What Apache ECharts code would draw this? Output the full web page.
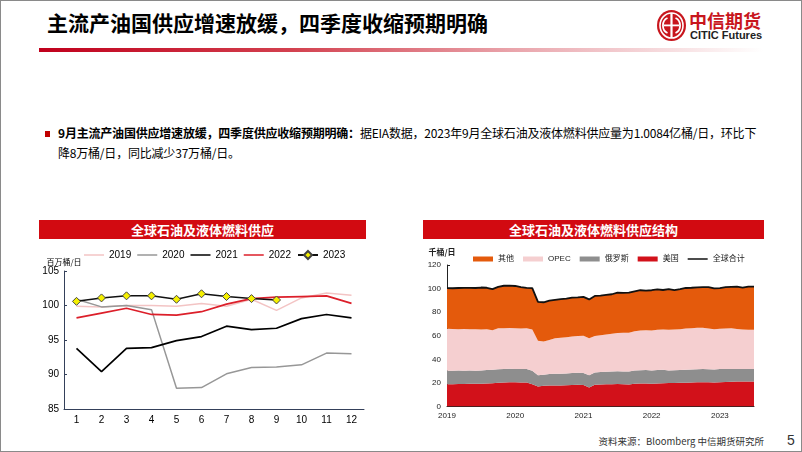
<!DOCTYPE html>
<html>
<head>
<meta charset="utf-8">
<script src="https://cdn.jsdelivr.net/npm/echarts@6/dist/echarts.min.js"></script>
<style>
  html, body { margin: 0; padding: 0; background: #fff; }
  #page {
    position: relative; width: 802px; height: 452px; box-sizing: border-box;
    border: 1px solid #8a8a8a; overflow: hidden;
    font-family: "Liberation Sans", "Noto Sans CJK SC", sans-serif; color: #000;
  }
  .abs { position: absolute; }
  #title { left: 46px; top: 6px; font-size: 21px; font-weight: bold; font-family: "Noto Sans CJK SC", sans-serif; white-space: nowrap; }
  #rule { left: 38px; top: 47px; width: 724px; height: 4px;
    background: linear-gradient(to right, #c0001c 0%, #d3414f 35%, #e9a3aa 65%, rgba(255,255,255,0) 100%); }
  #logoCn { left: 688px; top: 6px; font-size: 18px; font-weight: bold; color: #c8161d; font-family: "Noto Sans CJK SC", sans-serif; }
  #logoEn { left: 689px; top: 28px; font-size: 11px; font-weight: bold; color: #222; font-family: "Liberation Sans Narrow", "Liberation Sans", sans-serif; }
  #bullet { left: 44px; top: 130px; width: 5px; height: 6px; background: #c00000; }
  #para { left: 57px; top: 122px; font-size: 12px; line-height: 20px; white-space: nowrap; letter-spacing: -0.2px; font-family: "Noto Sans CJK SC", sans-serif; }
  #para b { font-weight: bold; }
  .bar { height: 19px; background: #d20a11; color: #fff; font-weight: bold; font-size: 13px;
    text-align: center; line-height: 19px; font-family: "Noto Sans CJK SC", sans-serif; }
  #barL { left: 38px; top: 219px; width: 327px; }
  #barR { left: 422px; top: 219px; width: 341px; }
  #chartL { left: 30px; top: 240px; width: 340px; height: 190px; }
  #chartR { left: 410px; top: 240px; width: 360px; height: 190px; }
  #source { right: 37px; top: 433px; font-size: 9.5px; color: #333; font-family: "Noto Sans CJK SC", sans-serif; }
  #pageNo { left: 786px; top: 431px; font-size: 14px; color: #333; }
</style>
</head>
<body>
<div id="page">
  <div id="title" class="abs">主流产油国供应增速放缓，四季度收缩预期明确</div>
  <div id="rule" class="abs"></div>
  <svg class="abs" style="left:655px;top:8px" width="31" height="33" viewBox="0 0 31 33">
    <ellipse cx="15.5" cy="16.5" rx="14.5" ry="15.5" fill="#c8161d"/>
    <ellipse cx="15.5" cy="16.5" rx="11.5" ry="12.5" fill="none" stroke="#fff" stroke-width="1.6"/>
    <rect x="14.4" y="4" width="2.2" height="25" fill="#fff"/>
    <path d="M11.5 9 A7 8 0 0 0 11.5 24" fill="none" stroke="#fff" stroke-width="1.8"/>
    <path d="M19.5 9 A7 8 0 0 1 19.5 24" fill="none" stroke="#fff" stroke-width="1.8"/>
    <rect x="8" y="15.5" width="15" height="1.8" fill="#fff"/>
  </svg>
  <div id="logoCn" class="abs">中信期货</div>
  <div id="logoEn" class="abs">CITIC Futures</div>
  <div id="bullet" class="abs"></div>
  <div id="para" class="abs"><b>9月主流产油国供应增速放缓，四季度供应收缩预期明确：</b>据EIA数据，2023年9月全球石油及液体燃料供应量为1.0084亿桶/日，环比下<br>降8万桶/日，同比减少37万桶/日。</div>
  <div id="barL" class="abs bar">全球石油及液体燃料供应</div>
  <div id="barR" class="abs bar">全球石油及液体燃料供应结构</div>
  <div id="chartL" class="abs"></div>
  <div id="chartR" class="abs"></div>
  <div id="source" class="abs">资料来源：Bloomberg 中信期货研究所</div>
  <div id="pageNo" class="abs">5</div>
</div>
<script>
// ---- left chart: monthly supply by year (百万桶/日)
const months = ['1', '2', '3', '4', '5', '6', '7', '8', '9', '10', '11', '12']
const y2019 = [99.9, 99.8, 100.0, 100.0, 99.9, 100.3, 99.9, 100.9, 99.3, 101.1, 101.8, 101.5]
const y2020 = [100.9, 99.8, 100.0, 99.4, 88.0, 88.1, 90.1, 91.0, 91.1, 91.4, 93.1, 93.0]
const y2021 = [93.8, 90.4, 93.8, 93.9, 94.9, 95.5, 97.0, 96.5, 96.7, 98.1, 98.7, 98.2]
const y2022 = [98.2, 98.9, 99.6, 98.7, 98.6, 99.1, 100.2, 101.0, 101.2, 101.3, 101.4, 100.3]
const y2023 = [100.6, 101.1, 101.4, 101.4, 100.9, 101.7, 101.3, 101.0, 100.8]

// ---- right chart: supply structure, Jan 2019 - Jul 2023
const yearTicks = ['2019', '2020', '2021', '2022', '2023']
const usSupply = [
  18.9, 18.9, 19.0, 19.1, 19.2, 19.2, 19.3, 19.6, 19.7, 20.2, 20.4, 20.6,
  20.5, 20.4, 20.3, 18.9, 16.9, 17.6, 17.8, 17.9, 17.8, 18.0, 18.3, 18.4,
  18.3, 16.2, 18.5, 18.7, 18.8, 18.9, 19.0, 18.8, 18.6, 19.3, 19.5, 19.6,
  19.2, 19.5, 19.8, 19.9, 19.9, 20.1, 20.2, 20.3, 20.5, 20.6, 20.5, 20.3,
  20.6, 20.8, 21.0, 21.1, 21.2, 21.3, 21.3
]
const russiaSupply = [
  11.4, 11.4, 11.5, 11.3, 11.3, 11.2, 11.3, 11.4, 11.4, 11.3, 11.4, 11.4,
  11.4, 11.4, 11.5, 11.4, 9.6, 9.4, 9.8, 9.9, 10.0, 10.0, 10.1, 10.2,
  10.2, 10.3, 10.4, 10.5, 10.6, 10.7, 10.8, 10.9, 11.0, 11.2, 11.3, 11.3,
  11.4, 11.5, 11.3, 10.6, 10.8, 10.9, 11.0, 11.1, 11.0, 11.1, 11.1, 11.0,
  11.1, 11.0, 10.8, 10.7, 10.6, 10.5, 10.5
]
const opecSupply = [
  35.7, 35.4, 35.1, 35.3, 35.1, 35.1, 34.8, 34.5, 33.5, 34.8, 34.6, 34.5,
  34.5, 34.4, 34.5, 35.0, 29.2, 28.2, 28.9, 30.0, 30.4, 30.7, 31.0, 31.2,
  31.5, 31.4, 30.8, 31.2, 31.6, 32.0, 32.6, 32.9, 33.0, 33.3, 33.6, 33.8,
  33.8, 34.0, 34.2, 34.5, 34.5, 34.6, 34.9, 35.0, 35.3, 35.1, 34.5, 34.2,
  34.3, 34.4, 34.5, 34.0, 33.6, 33.2, 33.3
]
const otherSupply = [
  34.4, 34.6, 34.9, 34.9, 35.0, 35.0, 35.5, 35.2, 35.0, 35.2, 36.0, 36.0,
  35.8, 35.1, 34.3, 35.1, 33.1, 33.2, 33.3, 32.7, 32.8, 32.8, 33.0, 32.8,
  33.0, 32.9, 34.1, 33.6, 33.6, 33.6, 34.2, 33.8, 33.9, 33.9, 34.2, 33.6,
  34.2, 34.3, 33.5, 34.6, 33.4, 33.9, 34.4, 34.3, 34.3, 34.4, 35.2, 34.6,
  34.4, 35.0, 35.1, 35.8, 35.5, 36.7, 36.5
]
const worldTotal = [
  100.4, 100.3, 100.5, 100.6, 100.6, 100.5, 100.9, 100.7, 99.6, 101.5, 102.4, 102.5,
  102.2, 101.3, 100.6, 100.4, 88.8, 88.4, 89.8, 90.5, 91.0, 91.5, 92.4, 92.6,
  93.0, 90.8, 93.8, 94.0, 94.6, 95.2, 96.6, 96.4, 96.5, 97.7, 98.6, 98.3,
  98.6, 99.3, 98.8, 99.6, 98.6, 99.5, 100.5, 100.7, 101.1, 101.2, 101.3, 100.1,
  100.4, 101.2, 101.4, 101.6, 100.9, 101.7, 101.6
]

// month categories: each year x 12, last year until July
const monthCats = []
yearTicks.forEach((y, i) => {
  const n = i === yearTicks.length - 1 ? 7 : 12
  for (let m = 1; m <= n; m++) monthCats.push(y + '-' + String(m).padStart(2, '0'))
})

const FONT = '"Liberation Sans", "Noto Sans CJK SC", sans-serif'
const LINE_ICON = 'path://M0,0 L40,0 L40,3 L0,3 Z'

const chartL = echarts.init(document.getElementById('chartL'))
const axisColorL = '#34405a'
chartL.setOption({
  animation: false,
  textStyle: { fontFamily: FONT },
  grid: { left: 33, top: 30, width: 300, height: 138 },
  legend: {
    left: 48, top: 4, itemWidth: 20, itemHeight: 10, itemGap: 6,
    textStyle: { fontSize: 10, color: '#000', fontFamily: FONT },
    data: [
      { name: '2019', icon: LINE_ICON },
      { name: '2020', icon: LINE_ICON },
      { name: '2021', icon: LINE_ICON },
      { name: '2022', icon: LINE_ICON },
      { name: '2023' }
    ]
  },
  xAxis: {
    type: 'category',
    data: months,
    axisLine: { lineStyle: { color: axisColorL, width: 1 } },
    axisTick: { inside: true, length: 3, lineStyle: { color: axisColorL } },
    axisLabel: { fontSize: 10, color: '#000', margin: 6 }
  },
  yAxis: {
    type: 'value',
    min: 85, max: 105, interval: 5,
    name: '百万桶/日',
    nameGap: 4,
    nameTextStyle: { fontSize: 8, color: '#000', fontFamily: '"Noto Sans CJK SC", sans-serif' },
    axisLine: { show: true, lineStyle: { color: axisColorL, width: 1 } },
    axisTick: { show: true, inside: true, length: 3, lineStyle: { color: axisColorL } },
    axisLabel: { fontSize: 10, color: '#000', margin: 5 },
    splitLine: { show: false }
  },
  series: [
    { name: '2019', type: 'line', data: y2019, symbol: 'none', lineStyle: { color: '#f3c4c4', width: 1.5 }, itemStyle: { color: '#f3c4c4' } },
    { name: '2020', type: 'line', data: y2020, symbol: 'none', lineStyle: { color: '#979797', width: 1.5 }, itemStyle: { color: '#979797' } },
    { name: '2021', type: 'line', data: y2021, symbol: 'none', lineStyle: { color: '#000', width: 1.7 }, itemStyle: { color: '#000' } },
    { name: '2022', type: 'line', data: y2022, symbol: 'none', lineStyle: { color: '#dc1f2a', width: 1.7 }, itemStyle: { color: '#dc1f2a' } },
    {
      name: '2023', type: 'line', data: y2023, symbol: 'diamond', symbolSize: 8,
      lineStyle: { color: '#111', width: 1.5 },
      itemStyle: { color: '#f5f000', borderColor: '#444', borderWidth: 1 },
      z: 5
    }
  ]
})

const chartR = echarts.init(document.getElementById('chartR'))
const areaSeries = (name, data, color) => ({
  name, type: 'line', stack: 'supply', data, symbol: 'none',
  lineStyle: { width: 0 }, areaStyle: { color, opacity: 1 }, itemStyle: { color }
})
const isJan = (idx, val) => String(val).endsWith('-01')
chartR.setOption({
  animation: false,
  textStyle: { fontFamily: FONT },
  grid: { left: 36, top: 24, width: 307, height: 141.5 },
  legend: {
    left: 57, top: 9, itemWidth: 20, itemHeight: 5, itemGap: 9,
    textStyle: { fontSize: 8, color: '#222', fontFamily: FONT },
    data: [
      { name: '其他', icon: 'rect' },
      { name: 'OPEC', icon: 'rect' },
      { name: '俄罗斯', icon: 'rect' },
      { name: '美国', icon: 'rect' },
      { name: '全球合计', icon: LINE_ICON }
    ]
  },
  xAxis: {
    type: 'category',
    data: monthCats,
    boundaryGap: false,
    axisLine: { lineStyle: { color: '#222', width: 1 } },
    axisTick: { inside: true, length: 3, interval: isJan, lineStyle: { color: '#222' } },
    axisLabel: { fontSize: 8, color: '#222', margin: 5, interval: isJan, formatter: v => v.slice(0, 4) }
  },
  yAxis: {
    type: 'value',
    min: 0, max: 120, interval: 20,
    name: '千桶/日',
    nameGap: 9,
    nameTextStyle: { fontSize: 8, fontWeight: 'bold', color: '#222', padding: [0, 10, 0, 0], fontFamily: '"Noto Sans CJK SC", sans-serif' },
    axisLine: { show: true, lineStyle: { color: '#222', width: 1 } },
    axisTick: { show: true, inside: true, length: 3, lineStyle: { color: '#222' } },
    axisLabel: { fontSize: 8, color: '#222', margin: 6 },
    splitLine: { show: false }
  },
  series: [
    areaSeries('美国', usSupply, '#d2111a'),
    areaSeries('俄罗斯', russiaSupply, '#8e8e8e'),
    areaSeries('OPEC', opecSupply, '#f5cfd0'),
    areaSeries('其他', otherSupply, '#e45a0c'),
    {
      name: '全球合计', type: 'line', data: worldTotal, symbol: 'none',
      lineStyle: { color: '#111', width: 1.8 }, itemStyle: { color: '#111' }, z: 5
    }
  ]
})
</script>
</body>
</html>
